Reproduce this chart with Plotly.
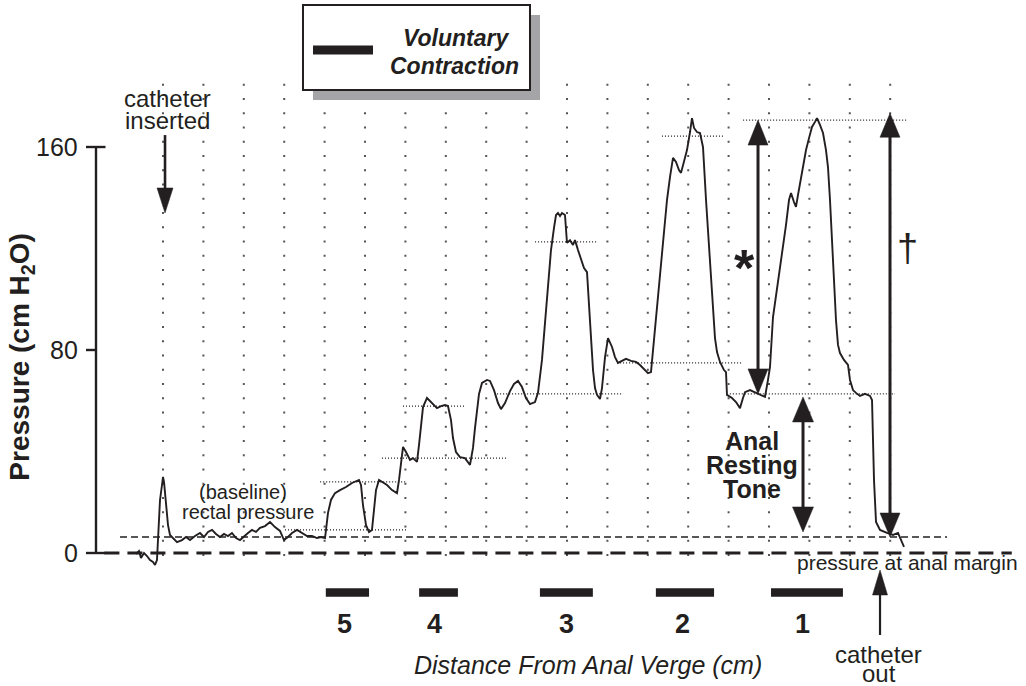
import plotly.graph_objects as go

# ---------------- data ----------------
# pressure trace: time in grid units (one dotted column = 1), pressure in cm H2O
T = [-0.668,-0.594,-0.545,-0.470,-0.396,-0.322,-0.248,-0.198,-0.149,-0.124,
     -0.074,-0.025,0.000,0.025,0.074,0.124,0.173,0.248,0.347,0.470,
     0.569,0.668,0.792,0.916,1.015,1.114,1.213,1.312,1.411,1.510,
     1.609,1.708,1.807,1.906,2.005,2.104,2.203,2.302,2.401,2.525,
     2.649,2.772,2.896,2.995,3.094,3.193,3.317,3.441,3.564,3.688,
     3.812,3.911,4.010,4.035,4.084,4.158,4.257,4.381,4.530,4.678,
     4.802,4.851,4.901,4.950,5.025,5.099,5.173,5.223,5.272,5.347,
     5.421,5.545,5.668,5.792,5.842,5.891,5.941,6.015,6.114,6.188,
     6.287,6.337,6.386,6.436,6.535,6.658,6.782,6.881,6.980,7.054,
     7.129,7.178,7.252,7.351,7.475,7.599,7.673,7.723,7.772,7.822,
     7.896,8.020,8.094,8.193,8.292,8.366,8.465,8.589,8.688,8.787,
     8.886,8.985,9.084,9.208,9.282,9.332,9.381,9.455,9.530,9.604,
     9.678,9.728,9.777,9.827,9.876,9.950,10.000,10.074,10.149,10.198,
     10.272,10.347,10.421,10.495,10.545,10.594,10.644,10.693,10.743,10.817,
     10.866,10.941,11.015,11.114,11.188,11.262,11.361,11.460,11.584,11.708,
     11.807,11.906,12.005,12.079,12.129,12.178,12.252,12.327,12.401,12.475,
     12.550,12.624,12.698,12.772,12.822,12.896,12.970,13.045,13.094,13.144,
     13.218,13.292,13.366,13.441,13.515,13.589,13.663,13.713,13.787,13.886,
     13.936,13.960,14.084,14.183,14.282,14.356,14.406,14.530,14.653,14.777,
     14.901,14.975,15.025,15.099,15.198,15.272,15.347,15.421,15.495,15.545,
     15.619,15.668,15.718,15.767,15.842,15.916,15.990,16.064,16.139,16.188,
     16.262,16.337,16.411,16.460,16.510,16.559,16.609,16.658,16.708,16.757,
     16.856,16.955,17.005,17.079,17.153,17.252,17.376,17.500,17.550,17.574,
     17.599,17.649,17.748,17.921,18.069,18.193,18.292,18.342]
P = [-0.4,0.8,-2.0,0.0,-1.2,-2.8,-3.5,-4.7,-2.8,5.1,
     20.9,26.8,30.0,28.0,18.9,11.0,7.1,5.9,4.3,5.1,
     6.3,5.1,6.7,7.9,6.3,8.3,9.1,7.5,6.3,7.5,
     6.7,7.9,5.9,5.1,6.7,7.9,9.1,8.3,9.9,10.6,
     12.2,10.2,8.7,5.1,6.3,7.9,9.1,7.9,6.7,6.7,
     5.9,6.3,5.9,9.1,15.8,20.9,23.6,24.8,26.0,27.6,
     28.4,28.8,26.8,18.9,11.0,8.3,9.1,16.9,24.8,28.8,
     28.0,26.8,24.8,23.6,28.8,36.7,41.8,39.8,36.7,37.4,
     35.9,42.6,50.4,57.5,61.1,59.1,57.1,57.9,58.3,57.9,
     52.4,45.3,39.8,37.8,37.4,34.7,41.4,49.3,56.4,62.7,
     67.0,68.2,67.8,64.2,59.1,56.7,59.1,63.8,66.6,67.8,
     65.4,61.1,58.7,59.5,63.1,70.1,76.1,90.6,106.4,119.4,
     128.1,133.2,134.0,132.8,134.0,133.2,122.2,123.3,121.4,123.3,
     119.4,115.5,112.3,110.7,97.7,82.0,72.1,65.0,62.3,60.7,
     65.0,77.2,84.7,81.2,77.2,74.9,75.7,76.5,75.7,75.3,
     74.1,72.5,70.9,71.3,80.0,86.7,99.7,112.7,127.3,139.1,
     148.2,155.7,154.1,150.9,149.8,154.9,158.8,165.9,171.4,167.5,
     165.9,165.5,160.0,139.1,119.4,99.7,84.7,79.2,75.3,72.1,
     71.3,62.3,61.1,59.5,57.1,61.1,63.4,64.2,63.4,62.3,
     61.5,68.2,73.3,93.0,103.6,112.7,121.4,129.3,139.1,141.9,
     138.3,136.4,141.1,145.8,152.1,158.8,163.5,167.9,169.9,171.4,
     168.7,165.5,158.8,152.1,139.1,123.3,107.6,91.8,82.0,78.8,
     76.1,74.1,68.2,64.2,63.1,61.9,62.7,61.9,60.3,44.5,
     28.8,12.2,9.1,7.9,7.1,7.9,3.9,2.4]

# dotted reference levels (pressure, start, end)
REF_LEVEL = [9.1, 28.0, 37.4, 57.9, 62.7, 122.6, 74.9, 164.3, 62.7, 170.6]
REF_START = [3.02, 3.89, 5.42, 5.94, 8.27, 9.21, 11.24, 12.35, 14.03, 14.36]
REF_END   = [6.04, 6.04, 8.51, 7.48, 11.39, 10.74, 14.36, 13.91, 18.12, 18.42]

RECTAL_BASELINE = 6.3        # thin dashed line
ANAL_MARGIN = 0.0            # thick dashed line

# voluntary contractions, distance from anal verge (cm)
CONTRACTION_LABELS = ["5", "4", "3", "2", "1"]
CONTRACTION_START = [4.03, 6.34, 9.33, 12.20, 15.05]
CONTRACTION_END   = [5.10, 7.30, 10.64, 13.64, 16.83]
CONTRACTION_LABEL_T = [4.50, 6.73, 9.98, 12.87, 15.82]

Y_TICKS = [0, 80, 160]

# ---------------- layout constants ----------------
FONT = "Liberation Sans, Arial, Helvetica, sans-serif"
INK = "#231f20"
W, H = 1026, 686
X_RANGE = [-4.0347, 21.3614]
Y_RANGE = [-52.41, 217.93]
PX_T = W / (X_RANGE[1] - X_RANGE[0])
PX_P = H / (Y_RANGE[1] - Y_RANGE[0])

fig = go.Figure()

# dotted grid
GRID_COLS = list(range(0, 19))
GRID_ROWS = [-0.8 + 5.616 * k for k in range(34)]
gx, gy = [], []
for c in GRID_COLS:
    for r in GRID_ROWS:
        gx.append(c)
        gy.append(r)
fig.add_trace(go.Scatter(x=gx, y=gy, mode="markers", hoverinfo="skip",
                         marker=dict(symbol="square", size=2, color="#555555",
                                     line=dict(width=0))))

# dotted reference levels
rx, ry = [], []
for lv, a, b in zip(REF_LEVEL, REF_START, REF_END):
    rx += [a, b, None]
    ry += [lv, lv, None]
fig.add_trace(go.Scatter(x=rx, y=ry, mode="lines", hoverinfo="skip",
                         line=dict(color=INK, width=1.2, dash="1px,2px")))

# rectal baseline (thin dashed)
fig.add_trace(go.Scatter(x=[-1.064, 19.406], y=[RECTAL_BASELINE] * 2, mode="lines",
                         hoverinfo="skip", line=dict(color=INK, width=1.3, dash="7px,4px")))
# anal margin (thick dashed)
fig.add_trace(go.Scatter(x=[-1.45, 21.01], y=[ANAL_MARGIN] * 2, mode="lines",
                         hoverinfo="skip", line=dict(color=INK, width=3, dash="15px,8px")))

# pressure trace
fig.add_trace(go.Scatter(x=T, y=P, mode="lines", hoverinfo="skip",
                         line=dict(color=INK, width=1.9)))

# contraction bars
BAR_P = -15.6
bx, by = [], []
for a, b in zip(CONTRACTION_START, CONTRACTION_END):
    bx += [a, b, None]
    by += [BAR_P, BAR_P, None]
fig.add_trace(go.Scatter(x=bx, y=by, mode="lines", hoverinfo="skip",
                         line=dict(color=INK, width=8.5)))

shapes = []
annotations = []

# y axis
AX_T = (96 - 163) / 40.4
shapes.append(dict(type="line", x0=AX_T, x1=AX_T, y0=0, y1=160,
                   line=dict(color=INK, width=2.4)))
for v in Y_TICKS:
    right = AX_T + 9.5 / PX_T if v in (0, 160) else AX_T
    shapes.append(dict(type="line", x0=AX_T - 10 / PX_T, x1=right, y0=v, y1=v,
                       line=dict(color=INK, width=2.4)))
    annotations.append(dict(x=AX_T - 16 / PX_T, y=v, text=str(v), showarrow=False,
                            xanchor="right", yanchor="middle",
                            font=dict(family=FONT, size=25, color=INK)))
annotations.append(dict(x=-3.49, y=77, text="<b>Pressure (cm H<sub>2</sub>O)</b>",
                        showarrow=False, textangle=-90, xanchor="center", yanchor="middle",
                        font=dict(family=FONT, size=28, color=INK)))


def head(t, p_tip, up, w_px, l_px):
    s = 1 if up else -1
    pb = p_tip - s * l_px / PX_P
    hw = w_px / 2 / PX_T
    return dict(type="path", layer="above",
                path=f"M {t},{p_tip} L {t - hw},{pb} L {t + hw},{pb} Z",
                fillcolor=INK, line=dict(color=INK, width=0.5))


def arrow(t, p_top, p_bot, top_head, bot_head, width, w_px, l_px):
    y1 = p_top - (l_px - 2) / PX_P if top_head else p_top
    y0 = p_bot + (l_px - 2) / PX_P if bot_head else p_bot
    shapes.append(dict(type="line", layer="above", x0=t, x1=t, y0=y0, y1=y1,
                       line=dict(color=INK, width=width)))
    if top_head:
        shapes.append(head(t, p_top, True, w_px, l_px))
    if bot_head:
        shapes.append(head(t, p_bot, False, w_px, l_px))


arrow(0.05, 164.7, 134.0, False, True, 2.6, 16, 25)          # catheter inserted
arrow(14.728, 170.6, 62.7, True, True, 3, 20, 25)           # *
arrow(17.995, 173.3, 6.3, True, True, 3, 20, 24)            # dagger
arrow(15.842, 61.5, 8.3, True, True, 3, 21, 25)             # anal resting tone
arrow(17.748, -6.7, -32.3, True, False, 2.2, 15, 25)        # catheter out

# legend box
shapes.append(dict(type="rect", layer="above", x0=3.713, x1=9.332, y0=178.5, y1=212.0,
                   fillcolor="#a5a5a8", line=dict(width=0)))
shapes.append(dict(type="rect", layer="above", x0=3.465, x1=9.084, y0=182.5, y1=216.0,
                   fillcolor="white", line=dict(color=INK, width=2)))
shapes.append(dict(type="line", layer="above", x0=3.713, x1=5.198, y0=198.2, y1=198.2,
                   line=dict(color=INK, width=9)))


def txt(t, p, s, size, **kw):
    d = dict(x=t, y=p, text=s, showarrow=False, xanchor="center", yanchor="middle",
             font=dict(family=FONT, size=size, color=INK))
    d.update(kw)
    annotations.append(d)


txt(7.243, 203.0, "<b><i>Voluntary</i></b>", 23)
txt(7.22, 191.9, "<b><i>Contraction</i></b>", 23)
txt(0.111, 179.2, "catheter", 24)
txt(0.111, 170.4, "inserted", 24)
txt(1.968, 24.0, "(baseline)", 20)
txt(2.10, 16.2, "rectal pressure", 20)
txt(18.42, -3.9, "pressure at anal margin", 21)
txt(17.72, -40.0, "catheter", 24)
txt(17.72, -47.3, "out", 24)
txt(14.59, 44.1, "<b>Anal</b>", 25)
txt(14.59, 34.7, "<b>Resting</b>", 25)
txt(14.59, 25.2, "<b>Tone</b>", 25)
txt(14.39, 112.5, "<b>*</b>", 52)
txt(18.44, 120.2, "\u2020", 38)
for lab, t in zip(CONTRACTION_LABELS, CONTRACTION_LABEL_T):
    txt(t, -27.8, f"<b>{lab}</b>", 27)
txt(10.51, -44.1, "<i>Distance From Anal Verge (cm)</i>", 25)

fig.update_layout(
    width=W, height=H, margin=dict(l=0, r=0, t=0, b=0, pad=0),
    paper_bgcolor="white", plot_bgcolor="white", showlegend=False,
    xaxis=dict(range=X_RANGE, visible=False, fixedrange=True),
    yaxis=dict(range=Y_RANGE, visible=False, fixedrange=True),
    shapes=shapes, annotations=annotations,
)

fig.write_html("out.html", config={"displayModeBar": False},
               post_script="document.body.style.margin='0';document.documentElement.style.overflow='hidden';")
